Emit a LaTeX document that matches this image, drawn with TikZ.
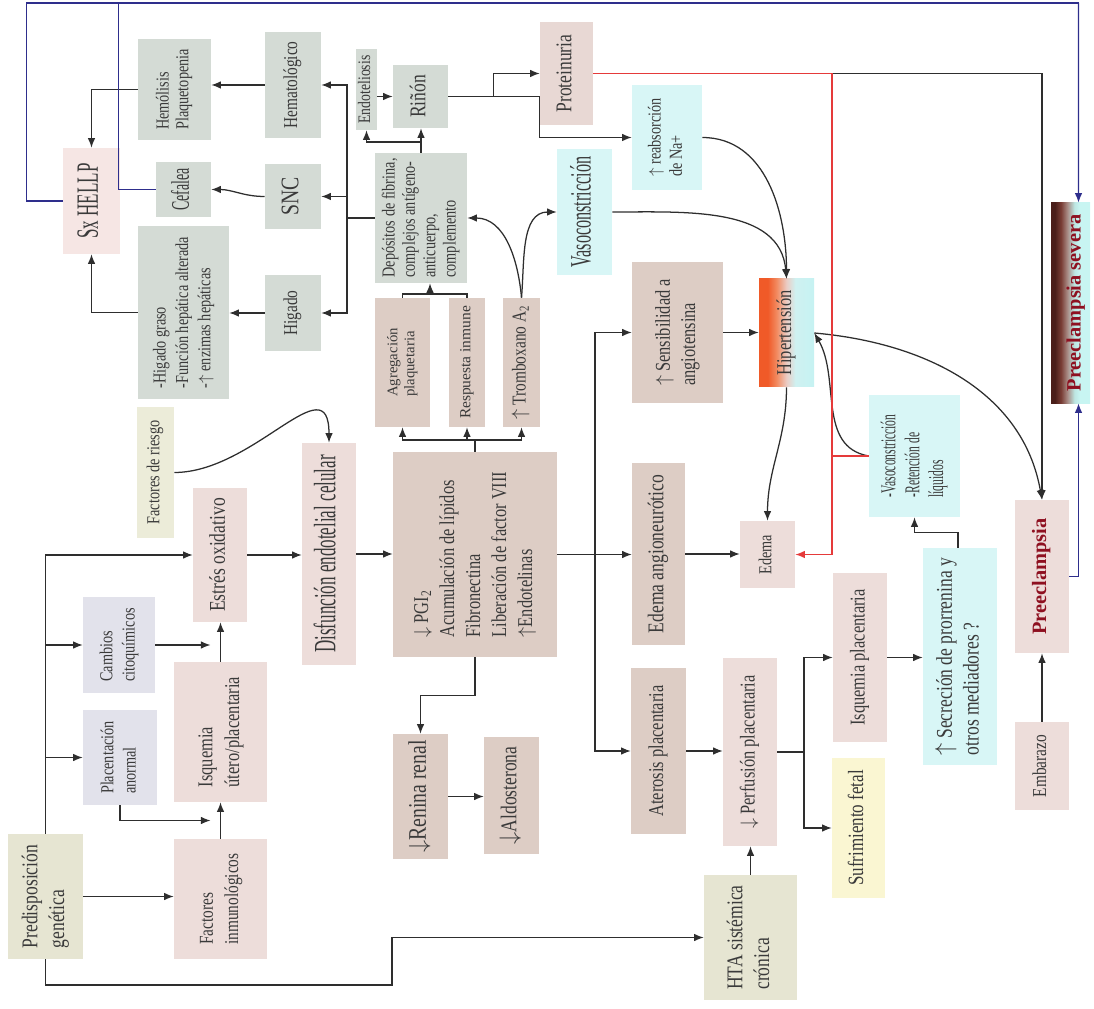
\documentclass[tikz,border=0pt]{standalone}
\usepackage{fontspec}
\setmainfont{Liberation Serif}[FakeStretch=0.78]
\newfontfamily\widefont{Liberation Serif}
\newfontfamily\narrowfont{Liberation Serif}[FakeStretch=0.55]
\usepackage{graphicx}
\usepackage{xcolor}
\usepackage{tikz}
\usetikzlibrary{arrows.meta,calc}
\definecolor{ink}{HTML}{3A3A3A}
\definecolor{wire}{HTML}{2E2E2E}
\definecolor{sage}{HTML}{D4DBD5}
\definecolor{blush}{HTML}{EDDDDA}
\definecolor{blushlt}{HTML}{F6E6E4}
\definecolor{tan}{HTML}{DDCDC5}
\definecolor{lilac}{HTML}{E2E2EB}
\definecolor{khaki}{HTML}{E6E5D2}
\definecolor{khakilt}{HTML}{ECECD9}
\definecolor{aqua}{HTML}{D8F6F6}
\definecolor{straw}{HTML}{FAF6D2}
\definecolor{navy}{HTML}{2E2E8C}
\definecolor{alarm}{HTML}{E53A3A}
\definecolor{wine}{HTML}{8E1020}
\definecolor{hipA}{HTML}{F05A28}
\definecolor{hipB}{HTML}{F28A60}
\definecolor{hipC}{HTML}{EBCCC4}
\definecolor{hipD}{HTML}{CFF1F1}
\definecolor{hipE}{HTML}{C6F2F2}
\definecolor{sevA}{HTML}{4A1E1A}
\definecolor{sevB}{HTML}{7A3E36}
\definecolor{sevC}{HTML}{A98C86}
\definecolor{sevD}{HTML}{BDE6E2}
\definecolor{sevE}{HTML}{C8F5F2}
\pgfdeclarehorizontalshading{hipshade}{100bp}{color(0bp)=(hipA); color(25bp)=(hipA); color(33bp)=(hipA); color(41bp)=(hipB); color(50bp)=(hipC); color(58bp)=(hipD); color(75bp)=(hipE); color(100bp)=(hipE)}
\pgfdeclarehorizontalshading{sevshade}{100bp}{color(0bp)=(sevA); color(25bp)=(sevA); color(30bp)=(sevA); color(38bp)=(sevB); color(46bp)=(sevC); color(55bp)=(sevD); color(62bp)=(sevE); color(100bp)=(sevE)}
\newcommand{\fs}[2]{\fontsize{#1}{#2}\selectfont}
\newcommand{\vt}[1]{\rotatebox{90}{\begin{tabular}{@{}l@{}}#1\end{tabular}}}
\tikzset{
  >={Latex[length=2.4mm,width=1.9mm]},
  every node/.style={text=ink,inner sep=1pt},
  box/.style={draw=none,align=center},
  gbox/.style={box,fill=sage},
  pbox/.style={box,fill=blush},
  tbox/.style={box,fill=tan},
  lbox/.style={box,fill=lilac},
  kbox/.style={box,fill=khaki},
  cbox/.style={box,fill=aqua},
  ybox/.style={box,fill=straw},
  link/.style={line width=0.9pt,draw=wire},
  arrow/.style={->,line width=0.9pt,draw=wire},
  redlink/.style={line width=0.9pt,draw=alarm},
  redarrow/.style={->,line width=0.9pt,draw=alarm},
  bluelink/.style={line width=1pt,draw=navy},
  bluearrow/.style={->,line width=1pt,draw=navy}
}
\begin{document}
\begin{tikzpicture}[x=0.25mm,y=-0.25mm]
  \useasboundingbox (0,0) rectangle (1094,1009);

  % HELLP side
  \node[gbox,minimum width=18.25mm,minimum height=25.25mm,font=\fs{13}{14}] (hemolisis) at (174.5,89.5) {\vt{Hemólisis\\Plaquetopenia}};
  \node[gbox,minimum width=14mm,minimum height=26.5mm,font=\fs{14}{15}] (hemato) at (293,85) {\vt{Hematológico}};
  \node[pbox,fill=blushlt,minimum width=14.25mm,minimum height=26.5mm,font={\fs{22}{23}\narrowfont}] (hellp) at (91.5,201) {\vt{Sx HELLP}};
  \node[gbox,minimum width=13.75mm,minimum height=13.75mm,font={\fs{18}{19}\narrowfont}] (cefalea) at (183.5,189.5) {\vt{Cefalea}};
  \node[gbox,minimum width=14mm,minimum height=16.25mm,font=\fs{18}{19}] (snc) at (293,196.5) {\vt{SNC}};
  \node[gbox,minimum width=22.75mm,minimum height=43.25mm,font=\fs{13}{16}] (higtxt) at (183.5,312.5) {\vt{-Higado graso\\-Función hepática alterada\\-$\uparrow$ enzimas hepáticas}};
  \node[gbox,minimum width=14mm,minimum height=19mm,font=\fs{14}{15}] (higado) at (293,313) {\vt{Higado}};

  % kidney and deposits
  \node[gbox,minimum width=4.75mm,minimum height=20.25mm,font=\fs{12.5}{13}] (endot) at (366.5,89.5) {\vt{Endoteliosis}};
  \node[gbox,minimum width=13.75mm,minimum height=15.75mm,font=\fs{16}{17}] (rinon) at (420.5,96.5) {\vt{Riñón}};
  \node[gbox,minimum width=23mm,minimum height=32.5mm,font=\fs{13}{14.5}] (depositos) at (421,218) {\vt{Depósitos de fibrina,\\complejos antígeno-\\anticuerpo,\\complemento}};
  \node[pbox,fill=blush!70!tan,minimum width=13.25mm,minimum height=25.75mm,font=\fs{16}{17}] (proteinuria) at (566.5,73.5) {\vt{Proteinuria}};
  \node[cbox,minimum width=17.5mm,minimum height=26.25mm,font=\fs{13}{15}] (reabs) at (667,137.5) {\vt{$\uparrow$ reabsorción\\de Na+}};
  \node[cbox,minimum width=13.75mm,minimum height=31.5mm,font={\fs{21}{22}\narrowfont}] (vasocon) at (584.5,212) {\vt{Vasoconstricción}};

  % endothelial products
  \node[tbox,minimum width=13.75mm,minimum height=32.25mm,font={\fs{10.5}{12}\widefont}] (agreg) at (402.5,362.5) {\vt{Agregación\\plaquetaria}};
  \node[tbox,minimum width=9mm,minimum height=32.25mm,font={\fs{11}{12}\widefont}] (respuesta) at (467,362.5) {\vt{Respuesta inmune}};
  \node[tbox,minimum width=9.25mm,minimum height=32.25mm,font=\fs{14}{15}] (trombox) at (521.5,362.5) {\vt{$\uparrow$ Tromboxano A\textsubscript{2}}};
  \node[tbox,minimum width=41mm,minimum height=51.25mm,font=\fs{15}{18.5}] (mainbox) at (475,554.5) {\vt{$\downarrow$ PGI\textsubscript{2}\\Acumulación de lípidos\\Fibronectina\\Liberación de factor VIII\\$\uparrow$Endotelinas}};
  \node[pbox,minimum width=13.5mm,minimum height=55.5mm,font={\fs{22}{23}\narrowfont}] (disfuncion) at (329,554) {\vt{Disfunción endotelial celular}};

  % hypertension block
  \node[tbox,minimum width=22.75mm,minimum height=35.25mm,font=\fs{15}{18}] (sensib) at (677.5,332.5) {\vt{$\uparrow$ Sensibilidad a\\angiotensina}};
  \node[box,shading=hipshade,minimum width=13.75mm,minimum height=27mm,font=\fs{15}{16}] (hiper) at (786.5,333) {\vt{Hipertensión}};
  \node[tbox,minimum width=13.25mm,minimum height=45.5mm,font=\fs{16}{17}] (edemaang) at (658.5,554) {\vt{Edema angioneurótico}};
  \node[pbox,minimum width=13.75mm,minimum height=16.75mm,font=\fs{13}{14}] (edema) at (767.5,554.5) {\vt{Edema}};
  \node[cbox,minimum width=22.75mm,minimum height=30.5mm,font={\fs{15}{17}\narrowfont}] (vasoret) at (914.5,456) {\vt{-Vasoconstricción\\-Retención de\\líquidos}};
  \node[pbox,minimum width=13.5mm,minimum height=38.25mm,font={\fs{14.5}{15}\widefont\bfseries},text=wine] (preecl) at (1042,576.5) {\vt{Preeclampsia}};
  \node[box,shading=sevshade,minimum width=9.75mm,minimum height=50mm,font={\fs{14.5}{15}\widefont\bfseries},text=wine] (severa) at (1070.5,303) {\hspace*{3mm}\vt{Preeclampsia severa}};
  \node[pbox,minimum width=13.5mm,minimum height=22mm,font=\fs{14}{15}] (embarazo) at (1042,766) {\vt{Embarazo}};

  % placenta block
  \node[cbox,minimum width=18.5mm,minimum height=54.25mm,font=\fs{16}{19}] (secrecion) at (960,656.5) {\vt{$\uparrow$ Secreción de prorrenina y\\otros mediadores ?}};
  \node[pbox,minimum width=13.5mm,minimum height=42.25mm,font=\fs{15}{16}] (isqplac) at (860,657.5) {\vt{Isquemia placentaria}};
  \node[pbox,minimum width=13.5mm,minimum height=47mm,font=\fs{15}{16}] (perfusion) at (750,752) {\vt{$\downarrow$ Perfusión placentaria}};
  \node[ybox,minimum width=13.25mm,minimum height=35mm,font=\fs{15.5}{16}] (sufrim) at (858.5,828) {\vt{Sufrimiento fetal}};
  \node[kbox,minimum width=23.25mm,minimum height=31.25mm,font=\fs{16}{19}] (hta) at (750.5,937.5) {\vt{HTA sistémica\\crónica}};
  \node[tbox,minimum width=13.75mm,minimum height=41.5mm,font=\fs{15}{16}] (aterosis) at (658.5,751) {\vt{Aterosis placentaria}};
  \node[tbox,minimum width=13.75mm,minimum height=31.25mm,font=\fs{18}{19}] (renina) at (420.5,796.5) {\vt{$\downarrow$Renina renal}};
  \node[tbox,minimum width=13.75mm,minimum height=29.25mm,font=\fs{16}{17}] (aldost) at (511.5,795.5) {\vt{$\downarrow$Aldosterona}};

  % origin block
  \node[kbox,minimum width=18.75mm,minimum height=31.25mm,font=\fs{16}{19}] (predisp) at (45.5,896.5) {\vt{Predisposición\\genética}};
  \node[pbox,minimum width=23.25mm,minimum height=30mm,font=\fs{14}{18}] (factinm) at (220.5,899) {\vt{Factores\\inmunológicos}};
  \node[pbox,minimum width=23.25mm,minimum height=35mm,font=\fs{15}{19}] (isqutero) at (220.5,732) {\vt{Isquemia\\útero/placentaria}};
  \node[lbox,minimum width=18.5mm,minimum height=23.75mm,font=\fs{13}{16}] (placent) at (120,757.5) {\vt{Placentación\\anormal}};
  \node[lbox,minimum width=18mm,minimum height=24mm,font=\fs{13}{16}] (cambios) at (119,645) {\vt{Cambios\\citoquímicos}};
  \node[pbox,minimum width=13.5mm,minimum height=33.5mm,font=\fs{16}{17}] (estres) at (220,555) {\vt{Estrés oxidativo}};
  \node[kbox,fill=khakilt,minimum width=9.25mm,minimum height=32.75mm,font=\fs{13}{14}] (factriesgo) at (155.5,472.5) {\vt{Factores de riesgo}};

  % connectors, left
  \coordinate (hbus) at (347,218);
  \draw[link] (depositos.west) -- (hbus);
  \draw[arrow] (hbus) |- (hemato.east);
  \draw[arrow] (hbus) |- (snc.east);
  \draw[arrow] (hbus) |- (higado.east);
  \draw[arrow] (hemato.west) -- (hemato.west -| hemolisis.east);
  \draw[arrow] (hemolisis.west) -| (hellp.north);
  \draw[arrow] (higtxt.west) -| (hellp.south);
  \draw[arrow] (higado.west) -- (higado.west -| higtxt.east);
  \draw[arrow] (snc.west) to[out=180,in=0] (cefalea.east);

  \coordinate (dj) at (421,142);
  \draw[arrow] (depositos.north) -- (depositos.north |- rinon.south);
  \draw[arrow] (dj) -| (endot.south);
  \draw[arrow] (rinon.west -| endot.east) -- (rinon.west);
  \draw[arrow] (rinon.east) -- ++(45,0) |- (proteinuria.west);
  \draw[arrow] (rinon.east) -- ++(91,0) |- (reabs.west);

  \coordinate (mtop) at (475,440);
  \draw[link] (mainbox.north) -- (mtop);
  \draw[arrow] (mtop) -| (agreg.south);
  \draw[arrow] (mtop) -| (respuesta.south);
  \draw[arrow] (mtop) -| (trombox.south);
  \coordinate (brk) at (430,294);
  \draw[link] (agreg.north) |- (brk) -| (respuesta.north);
  \draw[arrow] (brk) -- (brk |- depositos.south);
  \draw[arrow] (trombox.north) to[out=95,in=0] (depositos.east);
  \draw[arrow] (trombox.north) to[out=85,in=180] (vasocon.west);

  % connectors, middle
  \draw[arrow] (disfuncion.east) -- (disfuncion.east -| mainbox.west);
  \coordinate (rbus) at (595,554.5);
  \draw[arrow] (mainbox.east) -- (mainbox.east -| edemaang.west);
  \draw[arrow] (rbus) |- (sensib.west);
  \draw[arrow] (rbus) |- (aterosis.west);
  \draw[arrow] (edemaang.east) -- (edemaang.east -| edema.west);
  \draw[arrow] (sensib.east) -- (sensib.east -| hiper.west);
  \draw[arrow] (hiper.south) to[out=-90,in=90] (edema.north);
  \draw[arrow] (reabs.east) to[out=0,in=90] (hiper.north);
  \draw[arrow] (vasocon.east) to[out=0,in=95] (hiper.north);
  \draw[arrow] (vasoret.west) to[out=170,in=-60] (hiper.east);
  \draw[arrow] (hiper.east) to[out=-5,in=100] (preecl.north);

  % proteinuria lines
  \coordinate (redc) at (832,73.5);
  \draw[arrow] (redc) -| (preecl.north);
  \draw[redlink] (proteinuria.east) -- (redc);
  \draw[redarrow] (redc) |- (edema.east);
  \draw[redlink] (vasoret.west) -- (vasoret.west -| redc);

  % severe preeclampsia
  \coordinate (bluec) at (1078.5,3);
  \draw[bluelink] (hellp.west) -- ++(-36,0) |- (bluec);
  \draw[bluelink] (cefalea.west) -- ++(-37,0) |- (bluec);
  \draw[bluearrow] (bluec) -- ([xshift=2mm]severa.north);
  \draw[bluearrow] (preecl.east) -| ([xshift=2mm]severa.south);
  \draw[arrow] (embarazo.north) -- (preecl.south);

  % connectors, placenta
  \draw[arrow] (aterosis.east) -- (aterosis.east -| perfusion.west);
  \draw[arrow] (hta.north) -- (hta.north |- perfusion.south);
  \coordinate (pj) at (804,752);
  \draw[link] (perfusion.east |- pj) -- (pj);
  \draw[arrow] (pj) |- (isqplac.west);
  \draw[arrow] (pj) |- (sufrim.west);
  \draw[arrow] (isqplac.east) -- (isqplac.east -| secrecion.west);
  \draw[arrow] ([xshift=-0.5mm]secrecion.north) -- ++(0,-15) -| (vasoret.south);
  \draw[arrow] (mainbox.south) -- ++(0,38) -| (renina.north);
  \draw[arrow] (renina.east) -- (renina.east -| aldost.west);

  % connectors, origin
  \draw[arrow] (predisp.north) |- (estres.west);
  \draw[arrow] (predisp.north |- cambios.west) -- (cambios.west);
  \draw[arrow] (predisp.north |- placent.west) -- (placent.west);
  \draw[arrow] (predisp.east) -- (predisp.east -| factinm.west);
  \coordinate (pbend) at (392,985);
  \draw[arrow] (predisp.south) |- (pbend) |- (hta.west);
  \draw[arrow] (factinm.north) -- (isqutero.south);
  \draw[arrow] (isqutero.north) -- (isqutero.north |- estres.south);
  \draw[arrow,shorten >=2.5mm] (cambios.east) -- (cambios.east -| isqutero.north);
  \draw[arrow,shorten >=2.5mm] (placent.south) |- ($(isqutero.south)!0.5!(factinm.north)$);
  \draw[arrow] (estres.east) -- (estres.east -| disfuncion.west);
  \draw[arrow] (factriesgo.east) to[out=0,in=90,looseness=1.3] (disfuncion.north);
\end{tikzpicture}
\end{document}
